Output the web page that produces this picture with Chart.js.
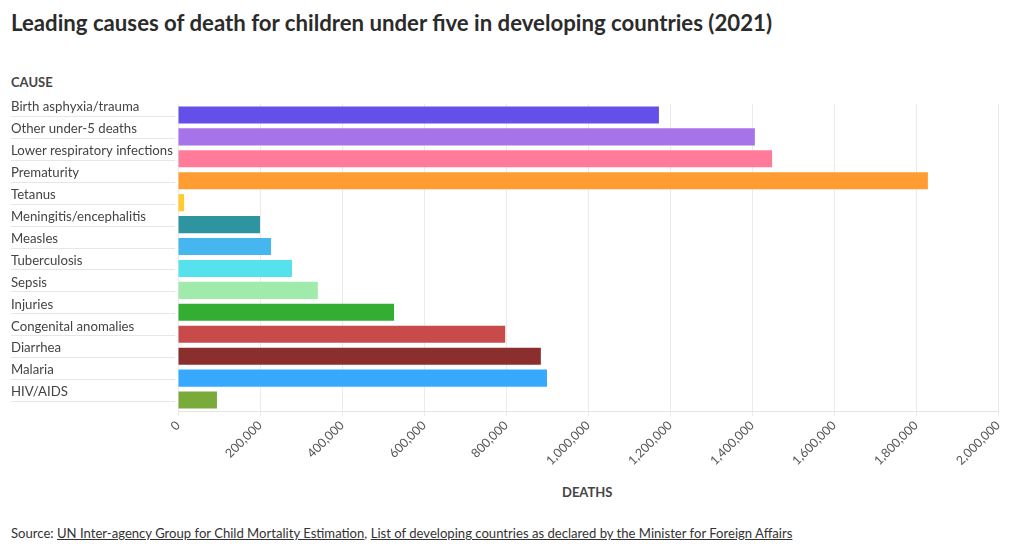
<!DOCTYPE html>
<html>
<head>
<meta charset="utf-8">
<script src="https://cdn.jsdelivr.net/npm/chart.js@4/dist/chart.umd.min.js"></script>
<style>
  body { margin: 0; background: #fff; font-family: Lato, sans-serif; color: #333; }
  #wrap { position: relative; width: 1020px; height: 552px; }
  h1 { position: absolute; left: 11px; top: 9px; margin: 0; font-size: 22.2px; font-weight: bold; color: #2b2b2b; }
  .axt { position: absolute; font-size: 13px; font-weight: bold; color: #444; }
  #chartBox { position: absolute; left: 0; top: 95px; width: 1020px; height: 380px; }
  #src { position: absolute; left: 11px; top: 525px; font-size: 13.1px; color: #333; }
  #src u { text-decoration: underline; }
</style>
</head>
<body>
<div id="wrap">
  <h1>Leading causes of death for children under five in developing countries (2021)</h1>
  <div class="axt" style="left:11px; top:74px;">CAUSE</div>
  <div id="chartBox"><canvas id="deathChart"></canvas></div>
  <div class="axt" style="left:562px; top:484px;">DEATHS</div>
  <div id="src">Source: <u>UN Inter-agency Group for Child Mortality Estimation</u>, <u>List of developing countries as declared by the Minister for Foreign Affairs</u></div>
</div>
<script>
const causes = ['Birth asphyxia/trauma', 'Other under-5 deaths', 'Lower respiratory infections', 'Prematurity',
  'Tetanus', 'Meningitis/encephalitis', 'Measles', 'Tuberculosis', 'Sepsis', 'Injuries',
  'Congenital anomalies', 'Diarrhea', 'Malaria', 'HIV/AIDS'];
const deaths = [1173000, 1407000, 1449000, 1829000, 15000, 200000, 227000, 278000, 341000, 527000,
  798000, 885000, 900000, 95000];
const barColors = ['#6450e8', '#a673e8', '#ff7b99', '#ff9d33', '#ffcb2e', '#2e94a0', '#45b6ef', '#55e2ec',
  '#a0eaab', '#33ae33', '#c94a4a', '#8b2e2e', '#36a9ff', '#7aab3a'];
const xTicks = [0, 200000, 400000, 600000, 800000, 1000000, 1200000, 1400000, 1600000, 1800000, 2000000];

// thin rules under each cause label
const labelRules = {
  id: 'labelRules',
  afterDraw(chart) {
    const ctx = chart.ctx;
    const y = chart.scales.y;
    ctx.save();
    ctx.strokeStyle = '#e6e6e6';
    ctx.lineWidth = 1;
    y.ticks.forEach((t, i) => {
      const py = Math.round(y.getPixelForTick(i)) + 1.5;
      ctx.beginPath();
      ctx.moveTo(11, py);
      ctx.lineTo(chart.chartArea.left - 3, py);
      ctx.stroke();
    });
    ctx.restore();
  }
};

const ctx = document.getElementById('deathChart').getContext('2d');
new Chart(ctx, {
  type: 'bar',
  data: {
    labels: causes,
    datasets: [{
      data: deaths,
      backgroundColor: barColors,
      borderWidth: 0,
      categoryPercentage: 1,
      barPercentage: 0.78
    }]
  },
  options: {
    indexAxis: 'y',
    responsive: true,
    maintainAspectRatio: false,
    animation: false,
    layout: { padding: { left: 11, right: 22, top: 9, bottom: 0 } },
    plugins: {
      legend: { display: false },
      tooltip: { enabled: false }
    },
    scales: {
      x: {
        min: 0,
        max: 2000000,
        afterBuildTicks: function (scale) { scale.ticks = xTicks.map(v => ({ value: v })); },
        afterFit: function (scale) { scale.height = 64; },
        grid: { color: '#ebebeb', tickLength: 5 },
        border: { color: '#e4e4e4' },
        ticks: {
          color: '#555',
          font: { family: 'Lato', size: 12.4 },
          minRotation: 45,
          maxRotation: 45,
          padding: 2,
          callback: function (value) { return value.toLocaleString('en-US'); }
        }
      },
      y: {
        afterFit: function (scale) { scale.width = 167; },
        grid: { display: false },
        border: { display: false },
        ticks: {
          color: '#444',
          font: { family: 'Lato', size: 13.2 },
          crossAlign: 'far',
          labelOffset: -8,
          padding: 0
        }
      }
    }
  },
  plugins: [labelRules]
});
</script>
</body>
</html>
